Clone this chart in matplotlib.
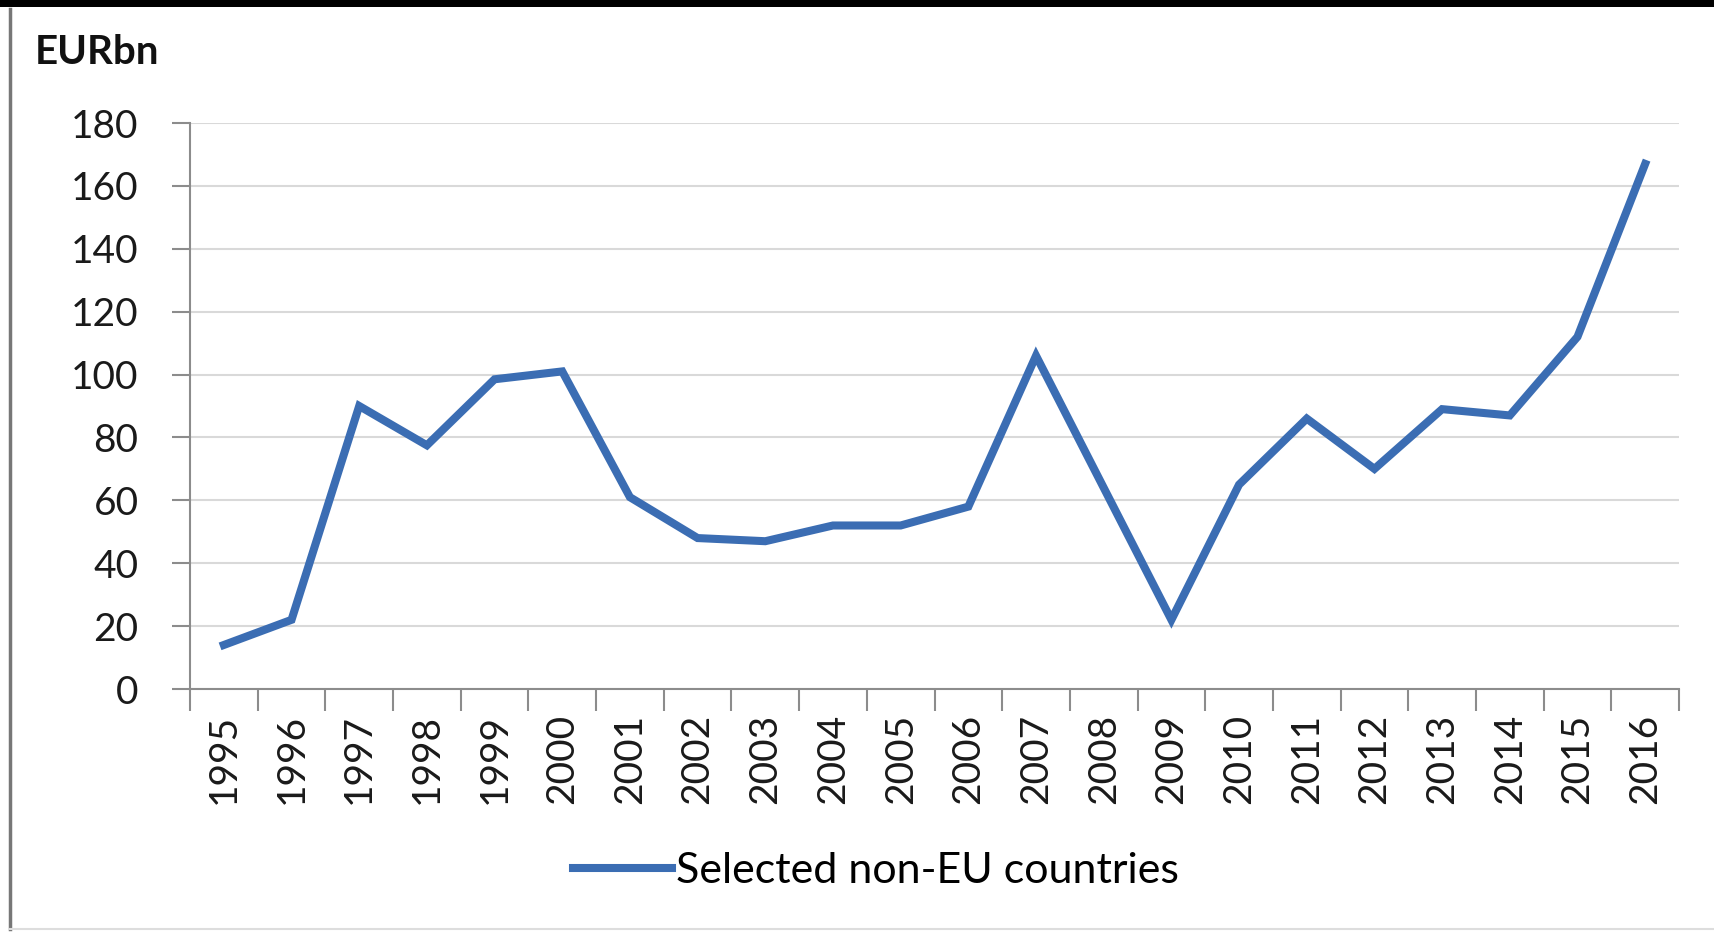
"""
Annual flows to selected non-EU countries, 1995-2016.
"""
import matplotlib.pyplot as plt
from matplotlib.lines import Line2D
from matplotlib.patches import Rectangle

years = [str(y) for y in range(1995, 2017)]
values = [14, 22, 90, 77.5, 98.5, 101, 61, 48, 47, 52, 52, 58,
          106, 64, 22, 65, 86, 70, 89, 87, 112, 167]
series_name = "Selected non-EU countries"
unit_label = "EURbn"
y_ticks = list(range(0, 181, 20))

plt.rcParams["font.family"] = ["Lato", "DejaVu Sans"]

W, H = 1714, 934
fig = plt.figure(figsize=(W / 100, H / 100), dpi=100)
ax = fig.add_axes([190 / W, 1 - 689 / H, (1679 - 190) / W, (689 - 123) / H])

line_color = "#3b6db3"
axis_color = "#8c8c8c"
grid_color = "#d9d9d9"

x = list(range(len(years)))
ax.plot(x, values, color=line_color, lw=5.8, solid_joinstyle="miter",
        label=series_name, zorder=3)

ax.set_xlim(-0.5, len(years) - 0.5)
ax.set_ylim(0, 180)

# tick marks sit between categories, labels at category centres
ax.set_xticks([i - 0.5 for i in range(len(years) + 1)])
ax.set_xticklabels([])
ax.set_xticks(x, minor=True)
ax.set_xticklabels(years, minor=True, rotation=90, fontsize=28)
ax.tick_params(axis="x", which="major", length=16, width=1.5, color=axis_color)
ax.tick_params(axis="x", which="minor", length=0, pad=18, colors="#1a1a1a")

ax.set_yticks(y_ticks)
ax.set_yticklabels([str(v) for v in y_ticks], fontsize=28)
ax.tick_params(axis="y", length=13, width=1.5, color=axis_color, pad=24,
               labelcolor="#1a1a1a")

ax.grid(axis="y", color=grid_color, lw=1.5, zorder=0)
ax.set_axisbelow(True)
for side in ("top", "right"):
    ax.spines[side].set_visible(False)
for side in ("left", "bottom"):
    ax.spines[side].set_color(axis_color)
    ax.spines[side].set_linewidth(1.5)

fig.text(35 / W, 1 - 52 / H, unit_label, fontsize=29, fontweight="bold",
         ha="left", va="center", color="#111111")

fig.legend(loc="center", bbox_to_anchor=(876 / W, 1 - 871 / H), frameon=False,
           fontsize=31, handlelength=2.3, handletextpad=0.1)

# outer frame: heavy top bar, thin grey left and bottom edges
fig.add_artist(Rectangle((0, 1 - 7 / H), 1, 7 / H, transform=fig.transFigure,
                         color="black", lw=0))
fig.add_artist(Line2D([10 / W, 10 / W], [1 - 9 / H, 1 - 929 / H],
                      transform=fig.transFigure, color="#777777", lw=2.5))
fig.add_artist(Line2D([10 / W, 1], [1 - 929 / H, 1 - 929 / H],
                      transform=fig.transFigure, color="#dddddd", lw=1.5))

fig.savefig("out.png", dpi=100)
